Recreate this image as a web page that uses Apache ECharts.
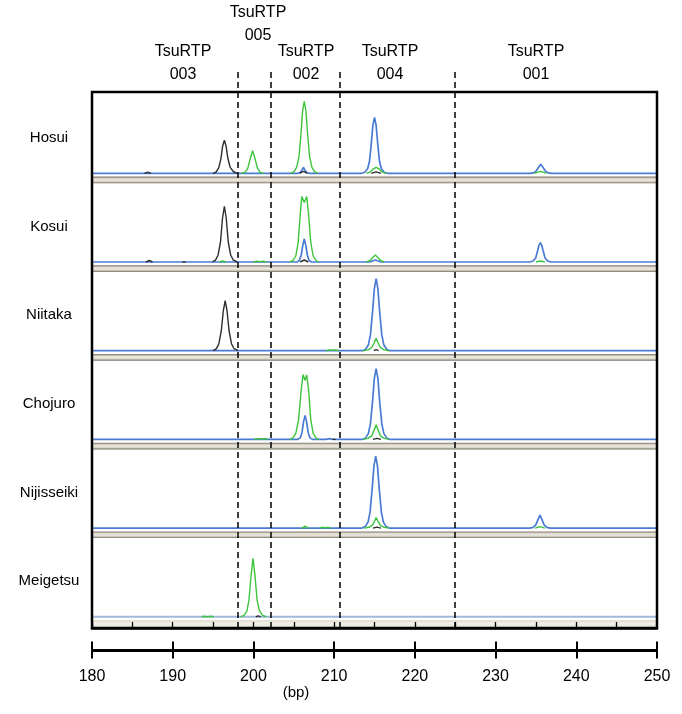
<!DOCTYPE html>
<html>
<head>
<meta charset="utf-8">
<script src="https://cdn.jsdelivr.net/npm/echarts@6/dist/echarts.min.js"></script>
<style>html,body{margin:0;padding:0;background:#fff}#c{width:682px;height:714px}</style>
</head>
<body>
<div id="c"></div>
<script>
// ---------- DATA ----------
const samples = ['Hosui', 'Kosui', 'Niitaka', 'Chojuro', 'Nijisseiki', 'Meigetsu'];
const locusLabels = ['TsuRTP\n003', 'TsuRTP\n005', 'TsuRTP\n002', 'TsuRTP\n004', 'TsuRTP\n001'];
const locusBoundaries = [198.1, 202.2, 210.7, 224.9];
const bpTicks = [180, 190, 200, 210, 220, 230, 240, 250];
const axisUnit = '(bp)';

// Blue traces (full baseline with peaks)
const hosuiBlue = [[180,0],[205.5,0],[205.8,0.8],[206.0,3],[206.2,6],[206.4,3],[206.6,0.8],[206.9,0],
  [213.4,0],[213.8,1.1],[214.15,4.5],[214.38,12],[214.58,28],[214.8,48],[215.0,56],[215.2,48],[215.42,28],[215.62,12],[215.85,4.5],[216.2,1.1],[216.6,0],
  [234.3,0],[234.75,0.6],[235.05,2.5],[235.33,6],[235.6,9],[235.87,6],[236.15,2.5],[236.45,0.6],[236.9,0],[250,0]];
const kosuiBlue = [[180,0],[205.4,0],[205.7,1.5],[205.92,7],[206.12,17],[206.3,23],[206.48,17],[206.68,7],[206.9,1.5],[207.2,0],
  [214.4,0],[215.1,2],[215.8,0],
  [234.2,0],[234.65,1],[234.97,4],[235.2,11],[235.37,16.5],[235.55,19.5],[235.73,16.5],[235.9,11],[236.13,4],[236.45,1],[236.9,0],[250,0]];
const niitakaBlue = [[180,0],[213.5,0],[213.9,1.5],[214.25,6],[214.5,16],[214.75,38],[214.98,62],[215.2,72],[215.42,62],[215.65,38],[215.9,16],[216.15,6],[216.5,1.5],[216.9,0],[250,0]];
const chojuroBlue = [[180,0],[205.5,0],[205.8,1.5],[206.02,7],[206.22,18],[206.4,24],[206.58,18],[206.78,7],[207.0,1.5],[207.3,0],
  [209.0,0],[209.4,0.8],[209.8,0],
  [213.5,0],[213.9,1.5],[214.25,6],[214.5,16],[214.75,37],[214.98,61],[215.2,70.7],[215.42,61],[215.65,37],[215.9,16],[216.15,6],[216.5,1.5],[216.9,0],[250,0]];
const nijisseikiBlue = [[180,0],[213.45,0],[213.85,1.5],[214.2,6],[214.45,16],[214.7,38],[214.93,62],[215.15,72],[215.37,62],[215.6,38],[215.85,16],[216.1,6],[216.45,1.5],[216.85,0],
  [234.2,0],[234.65,0.8],[234.97,3],[235.23,8],[235.5,13],[235.77,8],[236.03,3],[236.35,0.8],[236.8,0],[250,0]];
const meigetsuBlue = [[180,0],[250,0]];

// Green traces (separate peak segments)
const hosuiGreen = [
  [[198.5,0],[198.95,1],[199.3,5],[199.55,13],[199.9,22.5],[200.25,13],[200.5,5],[200.85,1],[201.3,0]],
  [[204.6,0],[205.0,1.5],[205.35,6],[205.65,17],[205.9,40],[206.1,63],[206.3,72],[206.5,63],[206.7,40],[206.95,17],[207.25,6],[207.6,1.5],[208.0,0]],
  [[214.0,0],[214.5,1.5],[214.85,4.5],[215.2,6],[215.55,4.5],[215.9,1.5],[216.4,0]],
  [[234.8,0],[235.6,2],[236.3,0]]
];
const kosuiGreen = [
  [[195.8,0],[196.2,1],[196.6,0]],
  [[200.0,0],[200.4,0.8],[200.8,0.4],[201.2,0.8],[201.6,0]],
  [[204.5,0],[204.9,1.5],[205.25,6],[205.55,20],[205.8,48],[206.0,65.6],[206.3,59.5],[206.6,65.5],[206.83,48],[207.1,20],[207.4,6],[207.75,1.5],[208.1,0]],
  [[214.0,0],[214.45,1.5],[214.78,4.5],[215.1,7],[215.42,4.5],[215.75,1.5],[216.2,0]],
  [[235.0,0],[235.55,1],[236.1,0]]
];
const niitakaGreen = [
  [[209.0,0],[209.4,0.8],[209.8,0.5],[210.2,0.8],[210.6,0]],
  [[213.6,0],[214.2,0.8],[214.65,3],[214.97,8],[215.2,12.3],[215.43,8],[215.75,3],[216.2,0.8],[216.8,0]]
];
const chojuroGreen = [
  [[200.1,0],[200.5,0.7],[201.0,0.5],[201.5,0.7],[201.8,0]],
  [[204.5,0],[204.9,1.5],[205.25,6],[205.6,20],[205.9,48],[206.15,64.7],[206.4,59],[206.6,64.5],[206.85,48],[207.1,20],[207.4,6],[207.75,1.5],[208.1,0]],
  [[213.6,0],[214.2,1],[214.65,3.5],[214.97,9.5],[215.2,14.7],[215.43,9.5],[215.75,3.5],[216.2,1],[216.8,0]]
];
const nijisseikiGreen = [
  [[206.0,0],[206.4,2],[206.8,0]],
  [[208.2,0],[208.5,0.8],[208.9,0.5],[209.3,0.8],[209.6,0]],
  [[213.7,0],[214.3,0.8],[214.75,3],[215.02,7],[215.2,10.6],[215.42,7],[215.75,2.5],[216.2,0.8],[216.8,0]],
  [[234.9,0],[235.5,1.5],[236.1,0]]
];
const meigetsuGreen = [
  [[193.6,0],[193.9,0.6],[194.3,0.2],[194.7,0.6],[195.1,0]],
  [[198.4,0],[198.85,1.5],[199.2,6],[199.45,17],[199.72,42],[199.95,58.5],[200.18,42],[200.45,17],[200.75,6],[201.15,1.5],[201.6,0]]
];

// Black traces
const hosuiBlack = [
  [[186.5,0],[186.9,1.2],[187.3,0]],
  [[195.0,0],[195.4,1.5],[195.72,6],[195.98,15],[196.18,27],[196.4,33],[196.62,27],[196.83,15],[197.12,6],[197.5,1.8],[198.0,0]],
  [[205.7,0],[206.2,2],[206.7,0]],
  [[214.6,0],[215.2,1.5],[215.8,0]]
];
const kosuiBlack = [
  [[186.7,0],[187.1,1.5],[187.5,0]],
  [[191.2,0],[191.4,1],[191.6,0]],
  [[194.9,0],[195.3,1.8],[195.62,7],[195.92,20],[196.17,44],[196.4,55.6],[196.63,44],[196.88,20],[197.18,7],[197.5,2],[198.0,0]],
  [[205.8,0],[206.3,2],[206.8,0]]
];
const niitakaBlack = [
  [[195.0,0],[195.4,1.8],[195.72,7],[196.02,20],[196.27,40],[196.5,50],[196.73,40],[196.98,20],[197.28,7],[197.6,2],[198.1,0]],
  [[214.9,0],[215.2,1],[215.5,0]]
];
const chojuroBlack = [
  [[209.8,0],[210.0,0.8],[210.2,0]],
  [[214.8,0],[215.3,1],[215.8,0]]
];
const nijisseikiBlack = [
  [[214.8,0],[215.3,1],[215.8,0]]
];
const meigetsuBlack = [
  [[200.3,0],[200.6,1],[200.9,0]]
];

const blueTraces = [hosuiBlue, kosuiBlue, niitakaBlue, chojuroBlue, nijisseikiBlue, meigetsuBlue];
const greenTraces = [hosuiGreen, kosuiGreen, niitakaGreen, chojuroGreen, nijisseikiGreen, meigetsuGreen];
const blackTraces = [hosuiBlack, kosuiBlack, niitakaBlack, chojuroBlack, nijisseikiBlack, meigetsuBlack];

// ---------- LAYOUT ----------
const FONT = '"Liberation Sans", Arial, Helvetica, sans-serif';
const L = 92, R = 25;
const BASE0 = 173.3, STEP = 88.7;
const BLUE = '#4a7bd4', BLUE_LIGHT = '#9fb9dc', GREEN = '#3cc43c', BLACK = '#2e2e2e';

const grids = [], xAxes = [], yAxes = [], series = [];
const bandGrad = {type:'linear', x:0, y:0, x2:0, y2:1, colorStops:[
  {offset:0, color:'#7f776a'},{offset:0.2, color:'#b9b2a4'},{offset:0.35, color:'#ebe7dd'},
  {offset:0.7, color:'#e2ddd1'},{offset:1, color:'#736d62'}]};
const bandGradLight = {type:'linear', x:0, y:0, x2:0, y2:1, colorStops:[
  {offset:0, color:'#e0dcd1'},{offset:0.5, color:'#f1efe8'},{offset:1, color:'#e8e5dc'}]};

samples.forEach((s, i) => {
  const base = BASE0 + i * STEP;
  grids.push({left:L, right:R, top: base - 81, height: 91});
  xAxes.push({gridIndex:i, type:'value', min:bpTicks[0], max:bpTicks[bpTicks.length-1], show:false});
  yAxes.push({gridIndex:i, type:'value', min:-10, max:81, show:false});
  const last = i === samples.length - 1;
  series.push({type:'line', xAxisIndex:i, yAxisIndex:i, data: blueTraces[i], symbol:'none', z:2,
    lineStyle:{color: last ? BLUE_LIGHT : BLUE, width: last ? 2 : 1.7},
    markArea:{silent:true, data:[[{yAxis:-3.3},{yAxis:-10}]], itemStyle:{color: last ? bandGradLight : bandGrad}}});
  greenTraces[i].forEach(seg => series.push({type:'line', xAxisIndex:i, yAxisIndex:i, data: seg, symbol:'none', z:3,
    lineStyle:{color:GREEN, width:1.4}}));
  blackTraces[i].forEach(seg => series.push({type:'line', xAxisIndex:i, yAxisIndex:i, data: seg, symbol:'none', z:4,
    lineStyle:{color:BLACK, width:1.4}}));
});

// frame grid (6)
grids.push({left:L, right:R, top:92, bottom:86, show:true, borderColor:'#000', borderWidth:2.5, backgroundColor:'transparent', z:10});
xAxes.push({gridIndex:6, type:'value', position:'top', min:180, max:250, interval:5, z:10,
  axisLine:{show:true, lineStyle:{color:'#000', width:2.5}},
  axisTick:{show:true, inside:false, length:6, lineStyle:{color:'#000', width:1.3}},
  axisLabel:{show:false}, splitLine:{show:false}});
yAxes.push({gridIndex:6, type:'value', show:false, min:0, max:1});

// dashed boundary grid (7)
grids.push({left:L, right:R, top:69, bottom:86});
xAxes.push({gridIndex:7, type:'value', min:180, max:250, show:false});
yAxes.push({gridIndex:7, type:'value', min:0, max:1, show:false});
series.push({type:'line', xAxisIndex:7, yAxisIndex:7, data:[[180,0]], symbol:'none', lineStyle:{opacity:0}, z:11,
  markLine:{silent:true, symbol:'none', label:{show:false},
    lineStyle:{type:[6,4], color:'#000', width:1.5},
    data: locusBoundaries.map(b => ({xAxis:b}))}});

// bottom axis grid (8)
grids.push({left:L, right:R, top:649.5, height:1});
const bottomAxisBase = {gridIndex:8, type:'value', min:bpTicks[0], max:bpTicks[bpTicks.length-1], interval:10,
  axisLine:{show:true, lineStyle:{color:'#000', width:2}}, splitLine:{show:false}};
xAxes.push(Object.assign({}, bottomAxisBase, {position:'bottom',
  axisTick:{show:true, inside:false, length:8, lineStyle:{color:'#000', width:2}},
  axisLabel:{show:true, color:'#000', fontSize:16, fontFamily:FONT, margin:18}}));
xAxes.push(Object.assign({}, bottomAxisBase, {position:'top',
  axisTick:{show:true, inside:false, length:8, lineStyle:{color:'#000', width:2}},
  axisLabel:{show:false}}));
yAxes.push({gridIndex:8, type:'value', min:0, max:1, show:false});

// texts
const graphics = [];
samples.forEach((s, i) => {
  graphics.push({type:'text', x:49, y: BASE0 + i*STEP - 35.5,
    style:{text:s, font:'15px '+FONT, fill:'#000', textAlign:'center', textVerticalAlign:'middle'}});
});
const locusPos = [[183,63],[258,24.5],[306,63],[390,63],[536,63]];
locusLabels.forEach((t, i) => {
  graphics.push({type:'text', x:locusPos[i][0], y:locusPos[i][1],
    style:{text:t, font:'16px '+FONT, fill:'#000', textAlign:'center', textVerticalAlign:'middle', lineHeight:23}});
});
graphics.push({type:'text', x:296, y:693, style:{text:axisUnit, font:'15px '+FONT, fill:'#000', textAlign:'center', textVerticalAlign:'middle'}});

const chart = echarts.init(document.getElementById('c'), null, {renderer:'canvas'});
chart.setOption({
  animation:false,
  backgroundColor:'#fff',
  grid: grids, xAxis: xAxes, yAxis: yAxes, series: series, graphic: graphics
});
</script>
</body>
</html>
